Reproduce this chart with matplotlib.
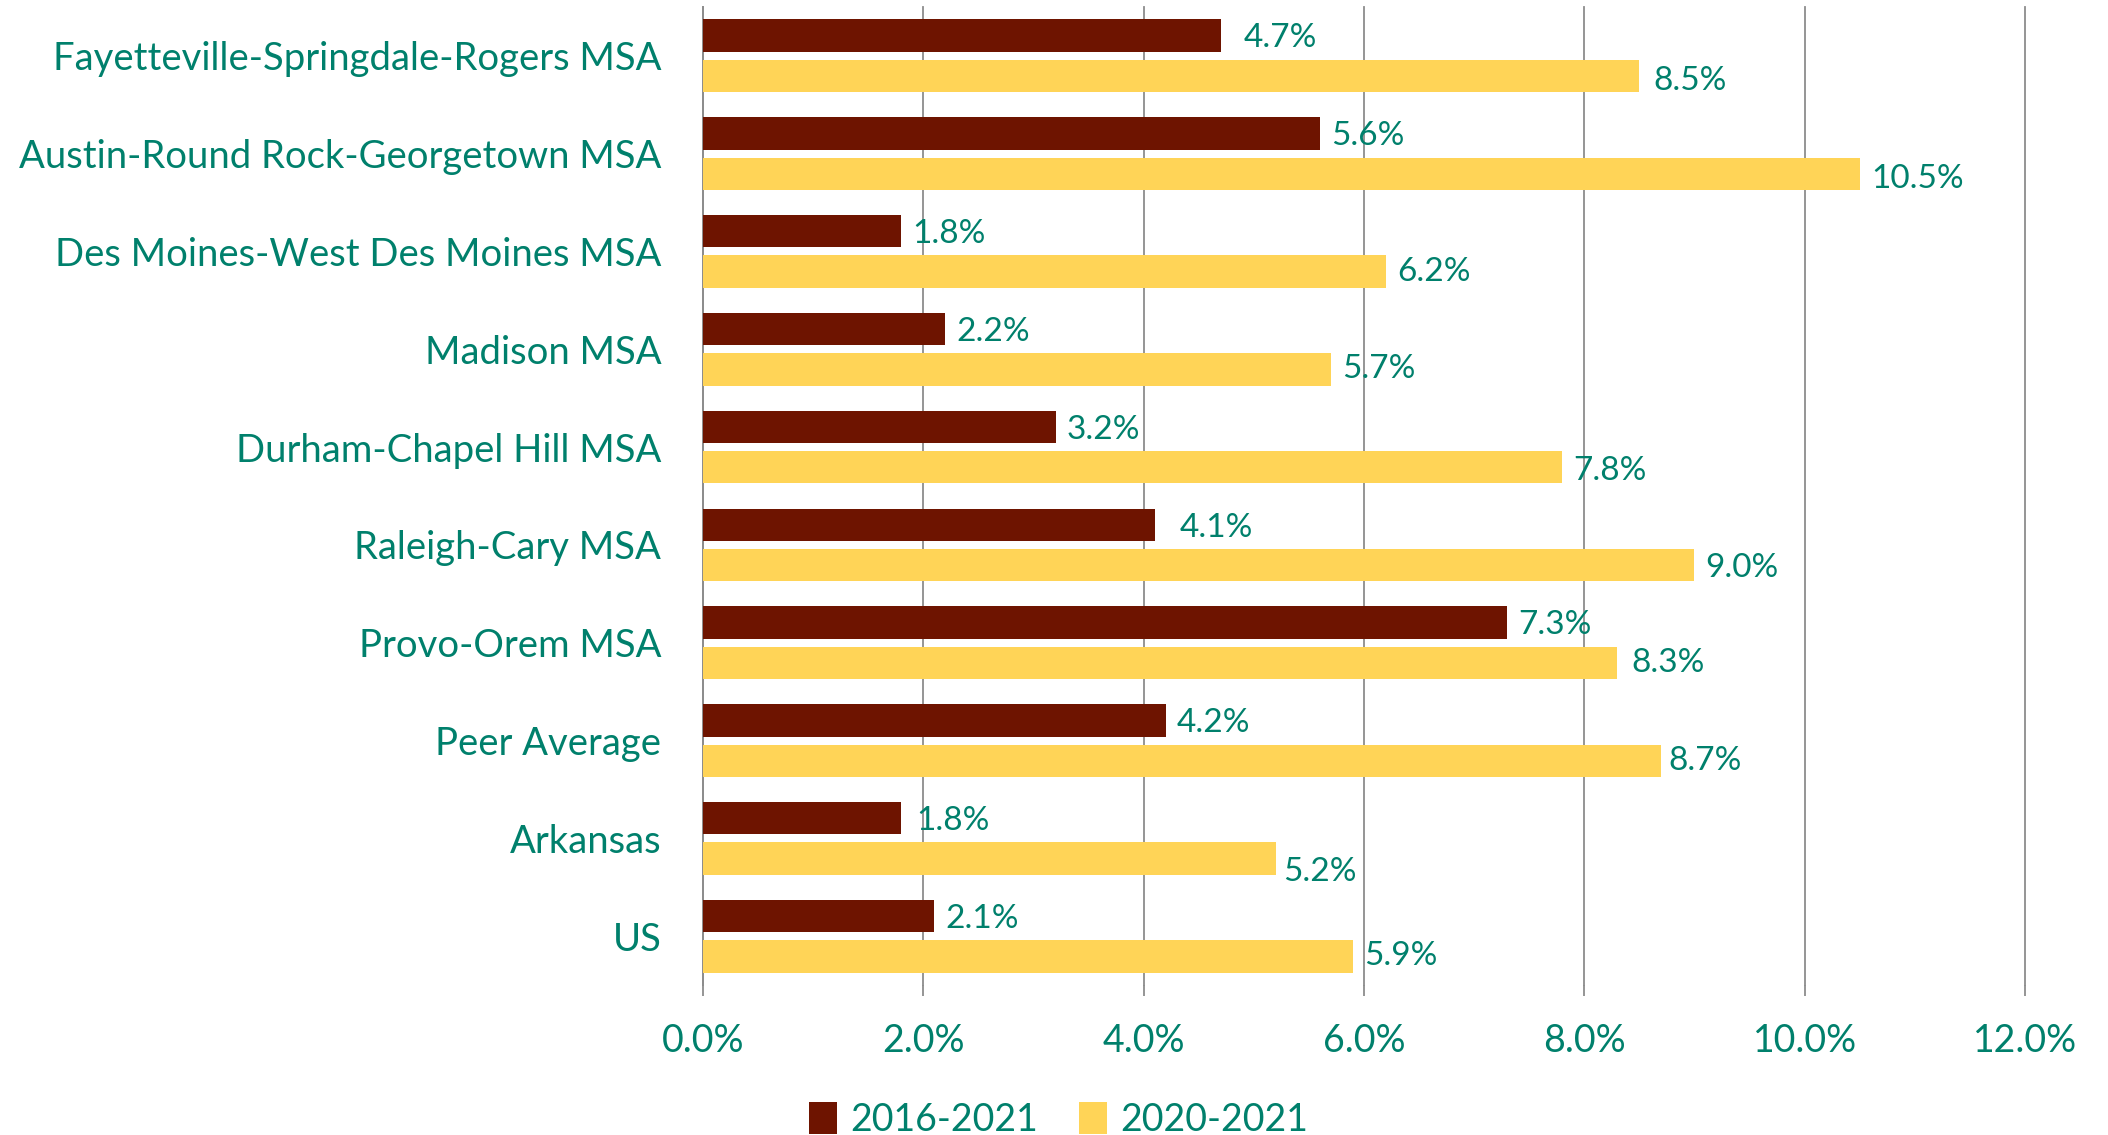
import matplotlib
matplotlib.use('Agg')
import matplotlib.pyplot as plt
import numpy as np
from matplotlib.ticker import FuncFormatter

## Datos del grafico
categorias = ['Fayetteville-Springdale-Rogers MSA', 'Austin-Round Rock-Georgetown MSA',
              'Des Moines-West Des Moines MSA', 'Madison MSA', 'Durham-Chapel Hill MSA',
              'Raleigh-Cary MSA', 'Provo-Orem MSA', 'Peer Average', 'Arkansas', 'US']
crec_2016_2021 = [4.7, 5.6, 1.8, 2.2, 3.2, 4.1, 7.3, 4.2, 1.8, 2.1]
crec_2020_2021 = [8.5, 10.5, 6.2, 5.7, 7.8, 9.0, 8.3, 8.7, 5.2, 5.9]
series = ['2016-2021', '2020-2021']

## Estilo
c_dark = '#6E1400'
c_yellow = '#FFD457'
c_text = '#00806C'
c_grid = '#8C8C8C'
plt.rcParams['font.family'] = ['Lato', 'DejaVu Sans']

# pequenos ajustes de las etiquetas (en pixeles), como en el original
dx_dark = [12, 0, 0, 0, 0, 14, 0, 0, 4, 0]
dx_yel = [3, 0, 0, 0, 0, 0, 3, -4, -4, 0]
dy_yel = [-5, -5, 0, 0, -4, -3, 0, 0, -13, 0]

fig = plt.figure(figsize=(21.08, 11.35), dpi=100)
ax = fig.add_axes([0.3335, 0.132, 0.6271, 0.862])

y = np.arange(len(categorias))
h = 0.33
off = 0.206
ax.barh(y - off, crec_2016_2021, height=h, color=c_dark, label=series[0], zorder=3)
ax.barh(y + off, crec_2020_2021, height=h, color=c_yellow, label=series[1], zorder=3)

## Etiquetas de datos
for i in range(len(categorias)):
    ax.annotate('{:.1f}%'.format(crec_2016_2021[i]), (crec_2016_2021[i], y[i] - off),
                xytext=(8 + dx_dark[i] * 0.72, -2), textcoords='offset points',
                va='center', ha='left', color=c_text, fontsize=24)
    ax.annotate('{:.1f}%'.format(crec_2020_2021[i]), (crec_2020_2021[i], y[i] + off),
                xytext=(8 + dx_yel[i] * 0.72, dy_yel[i] * 0.72), textcoords='offset points',
                va='center', ha='left', color=c_text, fontsize=24)

ax.set_ylim(len(categorias) - 0.5, -0.5)
ax.set_xlim(0, 12)
ax.set_xticks(np.arange(0, 12.1, 2))
ax.xaxis.set_major_formatter(FuncFormatter(lambda v, p: '{:.1f}%'.format(v)))
ax.set_yticks(y)
ax.set_yticklabels(categorias)

ax.grid(axis='x', color=c_grid, lw=1.3, zorder=0)
for l in ax.get_xgridlines():
    l.set_clip_on(False)
for s in ['top', 'right', 'bottom']:
    ax.spines[s].set_visible(False)
ax.spines['left'].set_color(c_grid)
ax.spines['left'].set_linewidth(1.3)
ax.tick_params(axis='x', colors=c_grid, length=8, width=1.3, pad=19, labelcolor=c_text, labelsize=27)
ax.tick_params(axis='y', length=0, pad=30, labelcolor=c_text, labelsize=27.5)

fig.legend(loc='lower center', bbox_to_anchor=(0.502, -0.032), ncol=2, frameon=False,
           fontsize=27, labelcolor=c_text, handlelength=0.75, handleheight=0.95,
           handletextpad=0.35, columnspacing=1.1)

fig.savefig('out.png', dpi=100)
